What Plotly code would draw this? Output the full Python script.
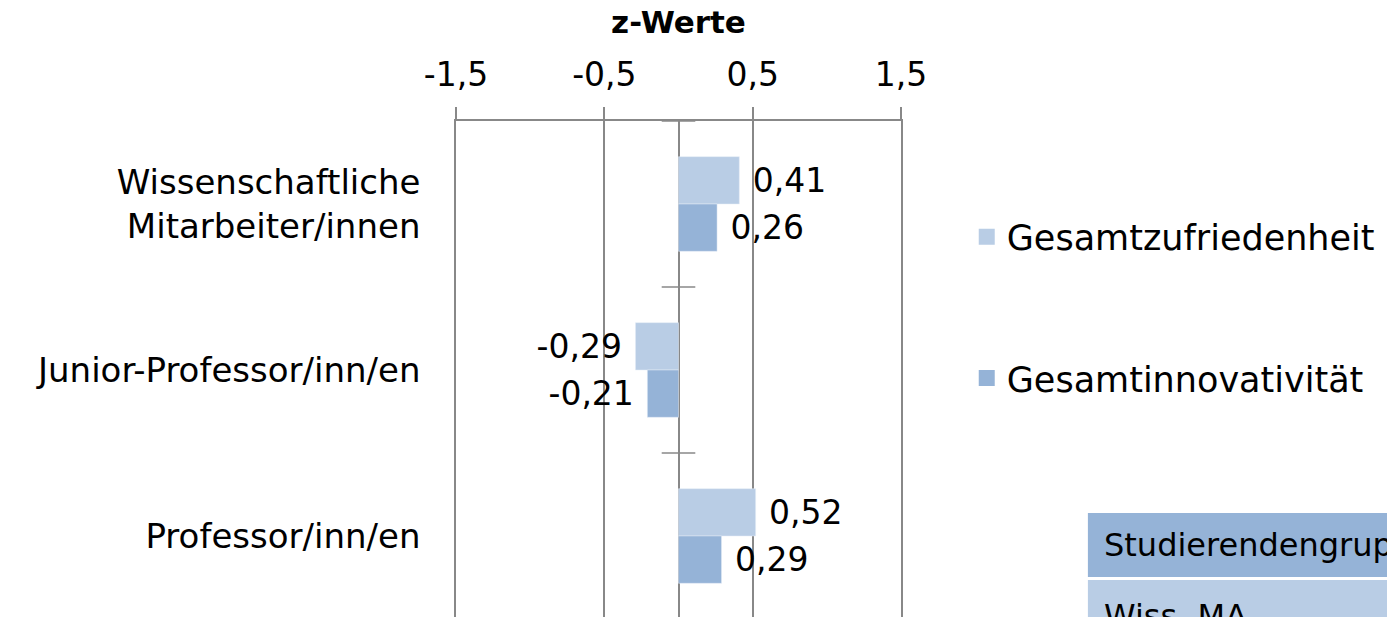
import plotly.graph_objects as go

# Gruppen (von oben nach unten) und z-Werte je Kennzahl
gruppen = ["Wissenschaftliche<br>Mitarbeiter/innen", "Junior-Professor/inn/en", "Professor/inn/en"]
zufriedenheit = [0.41, -0.29, 0.52]
innovativitaet = [0.26, -0.21, 0.29]
x_ticks = [-1.5, -0.5, 0.5, 1.5]
tabelle_kopf = "Studierendengruppe"
tabelle_zeile = "Wiss. MA"

FONT = "Century Gothic, URW Gothic, DejaVu Sans, sans-serif"
HELL = "#B9CDE5"
DUNKEL = "#95B3D7"
GRAU = "#888888"

pos = list(range(len(gruppen)))


def vorlagen(werte):
    nb = "\u00a0"
    return [nb + "%{x:.2f}" if v >= 0 else "%{x:.2f}" + nb for v in werte]


fig = go.Figure()
for name, werte, farbe, grp, leg in [
    ("Gesamtzufriedenheit", zufriedenheit, HELL, "a", "legend"),
    ("Gesamtinnovativität", innovativitaet, DUNKEL, "b", "legend2"),
]:
    fig.add_trace(go.Bar(
        y=pos, x=werte, orientation="h", name=name,
        marker=dict(color=farbe), offsetgroup=grp,
        texttemplate=vorlagen(werte), textposition="outside",
        textfont=dict(size=33, color="black", family=FONT), cliponaxis=False,
        showlegend=False,
    ))
    # Legendeneintrag mit größerem Farbquadrat
    fig.add_trace(go.Scatter(
        x=[None], y=[None], mode="markers", name=name,
        marker=dict(symbol="square", size=20, color=farbe),
        legend=leg, showlegend=True,
    ))

# Teilstriche der Kategorienachse an den Gruppengrenzen
grenzen = [p - 0.5 for p in pos] + [pos[-1] + 0.5]
fig.add_trace(go.Scatter(
    x=[0] * len(grenzen), y=grenzen, mode="markers", showlegend=False,
    marker=dict(symbol="line-ew", size=24, line=dict(color=GRAU, width=1.5)),
    cliponaxis=False, hoverinfo="skip",
))

leg_style = dict(xref="container", yref="container", x=0.697,
                 xanchor="left", yanchor="middle", font=dict(size=35),
                 bgcolor="rgba(0,0,0,0)", itemsizing="trace")

fig.update_layout(
    width=1387, height=617,
    margin=dict(l=456, r=486, t=121, b=0),
    paper_bgcolor="white", plot_bgcolor="white",
    separators=",.",
    barmode="group", bargap=0.43, bargroupgap=0,
    font=dict(family=FONT, size=33, color="black"),
    showlegend=True,
    legend=dict(y=0.616, **leg_style),
    legend2=dict(y=0.387, **leg_style),
)

fig.update_xaxes(
    side="top", range=[-1.5, 1.5], tickvals=x_ticks,
    ticktext=[f"{t:.1f}".replace(".", ",") for t in x_ticks],
    showgrid=True, gridcolor=GRAU, gridwidth=1.5,
    zeroline=True, zerolinecolor=GRAU, zerolinewidth=1.5,
    showline=True, linecolor=GRAU, linewidth=1.5,
    ticks="outside", ticklen=12, tickcolor=GRAU, tickwidth=1.5,
    tickfont=dict(size=33), ticklabelstandoff=8,
    title=dict(text="<b>z-Werte</b>", font=dict(size=31), standoff=12),
)
fig.update_yaxes(
    range=[2.488, -0.5], tickvals=pos, ticktext=gruppen,
    showgrid=False, zeroline=False,
    showline=True, mirror=True, linecolor=GRAU, linewidth=1.5,
    ticks="", tickfont=dict(size=34), ticklabelstandoff=27,
)

# Ausschnitt der Legendentabelle rechts unten
fig.add_shape(type="rect", xref="paper", yref="paper",
              x0=1.420, x1=2.2, y0=0.0806, y1=0.2097,
              fillcolor=DUNKEL, line=dict(width=0), layer="below")
fig.add_shape(type="rect", xref="paper", yref="paper",
              x0=1.420, x1=2.2, y0=-0.3, y1=0.0746,
              fillcolor=HELL, line=dict(width=0), layer="below")
fig.add_annotation(xref="paper", yref="paper", x=1.452, y=0.145,
                   xanchor="left", yanchor="middle", showarrow=False,
                   text=tabelle_kopf, font=dict(size=32))
fig.add_annotation(xref="paper", yref="paper", x=1.452, y=0.045,
                   xanchor="left", yanchor="top", showarrow=False,
                   text=tabelle_zeile, font=dict(size=32))

fig.write_html("out.html")
